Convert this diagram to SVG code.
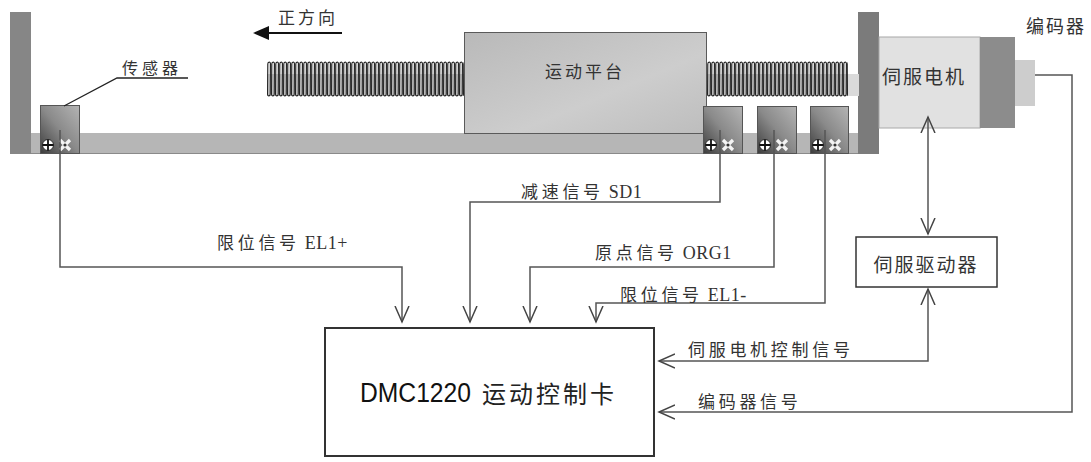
<svg xmlns="http://www.w3.org/2000/svg" width="1091" height="462" viewBox="0 0 1091 462">
  <style>
    .lbl { font-family: "Noto Sans CJK SC", sans-serif; font-size: 17px; fill: #333; letter-spacing: 3.7px; }
    .lat { font-family: "Liberation Serif", serif; font-size: 18px; letter-spacing: 0.5px; }
    .cjk { font-family: "Noto Sans CJK SC", sans-serif; fill: #333; }
    .wire { fill: none; stroke: #555; stroke-width: 1.5; }
    .sensor { fill: url(#sensorGrad); stroke: #555; stroke-width: 1; }
  </style>
  <defs>
    <linearGradient id="sensorGrad" x1="1" y1="0" x2="0" y2="1">
      <stop offset="0" stop-color="#b4b4b4"/>
      <stop offset="0.5" stop-color="#8a8a8a"/>
      <stop offset="1" stop-color="#3c3c3c"/>
    </linearGradient>
    <linearGradient id="platGrad" x1="0" y1="0" x2="1" y2="1">
      <stop offset="0" stop-color="#b9b9b9"/>
      <stop offset="0.6" stop-color="#cdcdcd"/>
      <stop offset="1" stop-color="#bdbdbd"/>
    </linearGradient>
    <pattern id="coil" patternUnits="userSpaceOnUse" x="267" y="61" width="4" height="36">
      <path d="M0.8,3 C0.8,0.4 3.6,0.4 3.4,3 L3.2,33 C3.2,35.6 0.4,35.6 0.6,33 Z" fill="none" stroke="#1e1e1e" stroke-width="1.15"/>
    </pattern>
    <marker id="vee" markerUnits="userSpaceOnUse" markerWidth="18" markerHeight="16" viewBox="0 0 18 16" refX="16" refY="8" orient="auto-start-reverse">
      <path d="M0,1 L16,8 L0,15" fill="none" stroke="#444" stroke-width="1.5"/>
    </marker>
    <g id="sensorIcons">
      <circle cx="0" cy="0" r="5.5" fill="#fff" stroke="#111" stroke-width="0.8"/>
      <path d="M-5.5,0 H5.5 M0,-5.5 V5.5" stroke="#111" stroke-width="1.8"/>
      <path d="M12,-5 L22,5 M22,-5 L12,5" stroke="#f4f4f4" stroke-width="3.2"/>
      <circle cx="17" cy="0" r="1.6" fill="#333"/>
    </g>
  </defs>

  <rect width="1091" height="462" fill="#fff"/>

  <!-- slide mechanism -->
  <g id="frame">
    <rect x="30" y="133" width="830" height="21" fill="#b6b6b6"/>
    <line x1="30" y1="153.5" x2="860" y2="153.5" stroke="#8a8a8a" stroke-width="1"/>
    <rect x="10" y="12" width="21" height="142" fill="#868686"/>
    <rect x="858" y="12" width="21" height="142" fill="#7b7b7b"/>
  </g>

  <g id="leadscrew">
    <rect x="267" y="74" width="592" height="22" fill="#dadada"/>
    <rect x="267" y="61" width="197" height="36" fill="url(#coil)"/>
    <rect x="707" y="61" width="141" height="36" fill="url(#coil)"/>
  </g>

  <g id="platform">
    <rect x="464.5" y="32.5" width="242" height="101" fill="url(#platGrad)" stroke="#5a5a5a" stroke-width="1"/>
    <text class="cjk" x="585" y="78" font-size="17" letter-spacing="3" text-anchor="middle">运动平台</text>
  </g>

  <g id="motor">
    <rect x="879" y="37" width="101" height="91" fill="#e1e1e1" stroke="#a8a8a8" stroke-width="1"/>
    <rect x="980" y="37" width="35" height="91" fill="#8c8c8c"/>
    <rect x="1015" y="60" width="20" height="46" fill="#cdcdcd"/>
    <text class="cjk" x="924" y="84" font-size="19" letter-spacing="2" text-anchor="middle">伺服电机</text>
  </g>

  <g id="encoder-label">
    <text class="cjk" x="1056" y="33" font-size="18" letter-spacing="2" text-anchor="middle">编码器</text>
  </g>

  <g id="direction">
    <line x1="266" y1="33" x2="342" y2="33" stroke="#111" stroke-width="2"/>
    <path d="M253,33 L269,26 L269,40 Z" fill="#111"/>
    <text class="cjk" x="308" y="24" font-size="17" letter-spacing="3" text-anchor="middle">正方向</text>
  </g>

  <g id="sensor-left">
    <rect class="sensor" x="40.5" y="105.5" width="39" height="48"/>
    <use href="#sensorIcons" x="48" y="145"/>
    <path d="M64,106 L117,78 H188" fill="none" stroke="#222" stroke-width="1.3"/>
    <text class="cjk" x="152" y="74" font-size="16" letter-spacing="4" text-anchor="middle">传感器</text>
  </g>
  <g id="sensor-sd">
    <rect class="sensor" x="703.5" y="106.5" width="39" height="47"/>
    <use href="#sensorIcons" x="711" y="145"/>
  </g>
  <g id="sensor-org">
    <rect class="sensor" x="757.5" y="106.5" width="39" height="47"/>
    <use href="#sensorIcons" x="765" y="145"/>
  </g>
  <g id="sensor-el">
    <rect class="sensor" x="810.5" y="106.5" width="38" height="47"/>
    <use href="#sensorIcons" x="818" y="145"/>
  </g>

  <g id="servo-driver">
    <rect x="856" y="237" width="141" height="50" fill="#fff" stroke="#333" stroke-width="1.5"/>
    <text class="cjk" x="926" y="272" font-size="19" letter-spacing="2" text-anchor="middle">伺服驱动器</text>
  </g>

  <g id="controller">
    <rect x="325" y="328" width="329" height="128" fill="#fff" stroke="#333" stroke-width="2"/>
    <text x="360" y="402" font-family="Liberation Sans, sans-serif" font-size="27" fill="#111" textLength="111" lengthAdjust="spacingAndGlyphs">DMC1220</text>
    <text class="cjk" x="482" y="403" font-size="24" letter-spacing="3" style="fill:#222">运动控制卡</text>
  </g>

  <!-- signal wiring -->
  <g id="connectors">
    <path class="wire" d="M60,130 V267 H402 V322" marker-end="url(#vee)"/>
    <path class="wire" d="M720,130 V202 H470 V322" marker-end="url(#vee)"/>
    <path class="wire" d="M774,130 V267 H530 V322" marker-end="url(#vee)"/>
    <path class="wire" d="M825,130 V303 H596 V322" marker-end="url(#vee)"/>
    <path class="wire" d="M928,117 V234" marker-start="url(#vee)" marker-end="url(#vee)"/>
    <path class="wire" d="M928,289 V361 H659" marker-start="url(#vee)" marker-end="url(#vee)"/>
    <path class="wire" d="M1035,75 H1072 V412 H659" marker-end="url(#vee)"/>
  </g>

  <g id="signal-labels">
    <text class="lbl" x="217" y="249">限位信号<tspan class="lat"> EL1+</tspan></text>
    <text class="lbl" x="521" y="198">减速信号<tspan class="lat"> SD1</tspan></text>
    <text class="lbl" x="595" y="259">原点信号<tspan class="lat"> ORG1</tspan></text>
    <text class="lbl" x="620" y="301">限位信号<tspan class="lat"> EL1-</tspan></text>
    <text class="lbl" x="688" y="356">伺服电机控制信号</text>
    <text class="lbl" x="698" y="408">编码器信号</text>
  </g>
</svg>
